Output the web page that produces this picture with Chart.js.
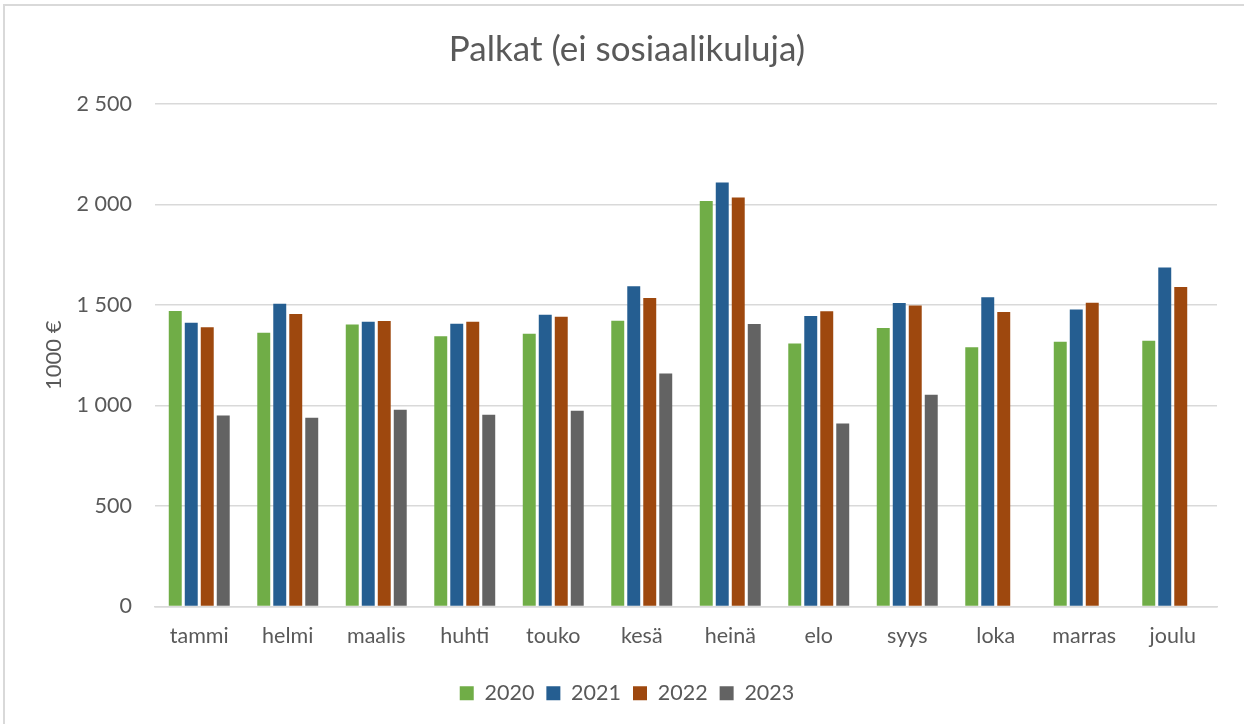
<!DOCTYPE html>
<html>
<head>
<meta charset="utf-8">
<script src="https://cdn.jsdelivr.net/npm/chart.js@4.4.1/dist/chart.umd.min.js"></script>
<style>
  html, body { margin: 0; padding: 0; background: #ffffff; }
  #wrap { position: relative; width: 1244px; height: 724px; overflow: hidden; }
  #c { position: absolute; left: 0; top: 0; }
  #frameTop { position: absolute; left: 4px; top: 4px; width: 1240px; height: 0; border-top: 2px solid #d9d9d9; pointer-events: none; }
  #frameLeft { position: absolute; left: 3px; top: 4px; width: 0; height: 720px; border-left: 2px solid #d9d9d9; pointer-events: none; }
</style>
</head>
<body>
<div id="wrap">
  <canvas id="c" width="1244" height="724"></canvas>
  <div id="frameTop"></div>
  <div id="frameLeft"></div>
</div>
<script>
const titleText = 'Palkat (ei sosiaalikuluja)';
const yAxisTitle = '1000 €';
const months = ['tammi', 'helmi', 'maalis', 'huhti', 'touko', 'kesä', 'heinä', 'elo', 'syys', 'loka', 'marras', 'joulu'];
const seriesNames = ['2020', '2021', '2022', '2023'];
const values2020 = [1470, 1362, 1403, 1344, 1357, 1422, 2018, 1309, 1385, 1290, 1317, 1322];
const values2021 = [1412, 1506, 1417, 1407, 1452, 1593, 2110, 1445, 1510, 1538, 1478, 1686];
const values2022 = [1389, 1455, 1420, 1417, 1442, 1535, 2035, 1469, 1498, 1465, 1511, 1589];
const values2023 = [950, 939, 979, 954, 974, 1159, 1405, 910, 1053, null, null, null];
const yTicks = [0, 500, 1000, 1500, 2000, 2500];
const colors = ['#70AD47', '#255E91', '#9E480E', '#636363'];

const FONT = 'Lato, "Open Sans", sans-serif';
const TXT = '#595959';

function fmt(v) {
  return String(v).replace(/\B(?=(\d{3})+(?!\d))/g, ' ');
}

const allSeries = [values2020, values2021, values2022, values2023];
const datasets = allSeries.map((vals, i) => ({
  label: seriesNames[i],
  data: vals,
  backgroundColor: colors[i],
  borderWidth: 0,
  categoryPercentage: 0.723,
  barPercentage: 0.81
}));

new Chart(document.getElementById('c'), {
  type: 'bar',
  data: { labels: months, datasets },
  options: {
    responsive: false,
    animation: false,
    devicePixelRatio: 1,
    layout: { padding: { left: 37, right: 27, top: 0, bottom: 10 } },
    plugins: {
      title: {
        display: true,
        text: titleText,
        color: TXT,
        font: { family: FONT, size: 35, weight: 'normal' },
        padding: { top: 29, bottom: 33 }
      },
      legend: {
        position: 'bottom',
        labels: {
          color: TXT,
          font: { family: FONT, size: 21.5 },
          boxWidth: 14,
          boxHeight: 14,
          padding: 12
        }
      },
      tooltip: { enabled: false }
    },
    scales: {
      x: {
        grid: { display: false, drawTicks: false },
        border: { display: true, color: '#d9d9d9', width: 1.5 },
        ticks: { color: TXT, font: { family: FONT, size: 21.5 }, padding: 17, maxRotation: 0 },
        afterFit: (s) => { s.height = 64; }
      },
      y: {
        min: 0,
        max: 2500,
        afterBuildTicks: (s) => { s.ticks = yTicks.map(v => ({ value: v })); },
        grid: { color: '#d9d9d9', lineWidth: 1.5, drawTicks: false },
        border: { display: false },
        ticks: { color: TXT, font: { family: FONT, size: 21.5 }, padding: 23, callback: (v) => fmt(v) },
        title: { display: true, text: yAxisTitle, color: TXT, font: { family: FONT, size: 22 } },
        afterFit: (s) => { s.width = 118; }
      }
    }
  }
});
</script>
</body>
</html>
